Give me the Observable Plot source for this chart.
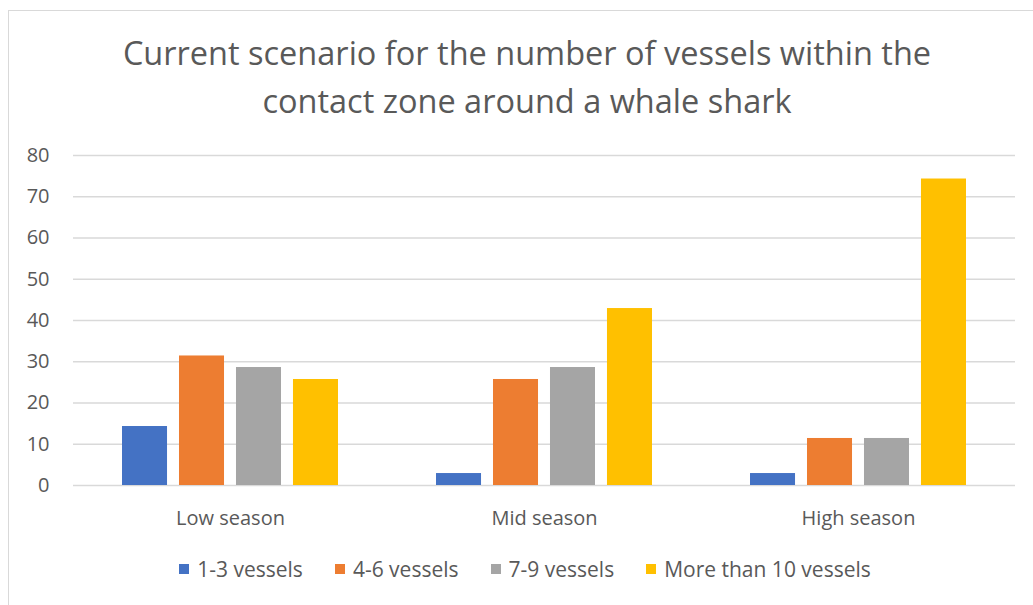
<!DOCTYPE html>
<html>
<head>
<meta charset="utf-8">
<script src="https://cdn.jsdelivr.net/npm/d3@7"></script>
<script src="https://cdn.jsdelivr.net/npm/@observablehq/plot@0.6"></script>
<style>
  html, body { margin: 0; padding: 0; background: #fff; width: 1033px; height: 605px; overflow: hidden; }
  body { position: relative; font-family: "Open Sans", sans-serif; color: #595959; }
  #frame { position: absolute; left: 8px; top: 10px; width: 1040px; height: 640px; border: 1.5px solid #d9d9d9; box-sizing: border-box; }
  #title { position: absolute; left: 8px; width: 1038px; top: 29px; text-align: center; font-size: 32.5px; line-height: 48px; color: #595959; }
  #chart { position: absolute; left: 0; top: 130px; }
  #legend { position: absolute; left: 6px; width: 1038px; top: 557px; display: flex; justify-content: center; font-size: 21px; line-height: 24px; }
  .item { display: flex; align-items: center; margin: 0 16px; }
  .sw { width: 10px; height: 10px; margin-right: 8px; }
</style>
</head>
<body>
<div id="frame"></div>
<div id="title"></div>
<div id="chart"></div>
<div id="legend"></div>
<script>
const titleLines = ["Current scenario for the number of vessels within the", "contact zone around a whale shark"];
const seasons = ["Low season", "Mid season", "High season"];
const series = ["1-3 vessels", "4-6 vessels", "7-9 vessels", "More than 10 vessels"];
const colors = ["#4472C4", "#ED7D31", "#A5A5A5", "#FFC000"];
const v1to3 = [14.3, 2.9, 2.9];
const v4to6 = [31.4, 25.7, 11.4];
const v7to9 = [28.6, 28.6, 11.4];
const vMore10 = [25.7, 42.9, 74.3];
const yTicks = [0, 10, 20, 30, 40, 50, 60, 70, 80];

const valuesBySeries = [v1to3, v4to6, v7to9, vMore10];
const data = [];
seasons.forEach((s, i) => series.forEach((k, j) => data.push({season: s, series: k, value: valuesBySeries[j][i]})));

document.getElementById("title").innerHTML = titleLines.map(t => `<div>${t}</div>`).join("");

const chart = Plot.plot({
  width: 1033,
  height: 405,
  marginTop: 25,
  marginBottom: 50,
  marginLeft: 72,
  marginRight: 18,
  style: {fontFamily: "'Open Sans', sans-serif", fontSize: "20px", color: "#595959", background: "transparent"},
  fx: {domain: seasons, padding: 0, label: null},
  x: {domain: series, paddingInner: 0.21, paddingOuter: 0.86, round: false, axis: null},
  y: {domain: [0, 80], label: null},
  color: {domain: series, range: colors},
  marks: [
    Plot.ruleY(yTicks, {stroke: "#d9d9d9", strokeWidth: 1.3}),
    Plot.barY(data, {fx: "season", x: "series", y: "value", fill: "series"}),
    Plot.axisY({ticks: yTicks, tickSize: 0, tickPadding: 24, fontSize: 20, label: null}),
    Plot.axisFx({anchor: "bottom", tickSize: 0, tickPadding: 25, fontSize: 20, label: null})
  ]
});
document.getElementById("chart").appendChild(chart);

const legend = document.getElementById("legend");
series.forEach((s, i) => {
  const it = document.createElement("div");
  it.className = "item";
  it.innerHTML = `<span class="sw" style="background:${colors[i]}"></span><span>${s}</span>`;
  legend.appendChild(it);
});
</script>
</body>
</html>
